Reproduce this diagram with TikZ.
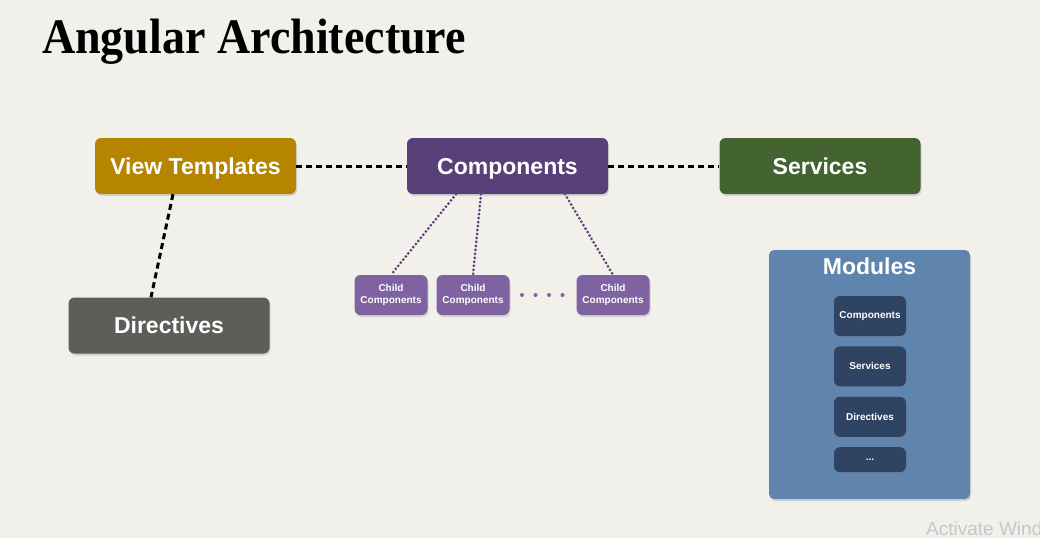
\documentclass[tikz,border=0pt]{standalone}
\usepackage{fontspec}
\newfontfamily\lsans{Liberation Sans}
\newfontfamily\lserif{Liberation Serif}
\usetikzlibrary{positioning,shadows}
\definecolor{paper}{HTML}{F2F0EB}
\definecolor{viewcol}{HTML}{B58500}
\definecolor{compcol}{HTML}{5A4079}
\definecolor{servcol}{HTML}{436431}
\definecolor{dircol}{HTML}{5F5D59}
\definecolor{childcol}{HTML}{7E62A1}
\definecolor{modcol}{HTML}{5F84AE}
\definecolor{innercol}{HTML}{2E4462}
\begin{document}
\begin{tikzpicture}[x=1pt, y=-1pt,
  box/.style = {rounded corners=6pt, text=white,
    font=\lsans\bfseries\fontsize{23}{27}\selectfont,
    text height=17pt, text depth=1pt,
    minimum width=201pt, minimum height=56pt,
    drop shadow={opacity=0.25, shadow xshift=1pt, shadow yshift=-2pt}},
  small/.style = {box, font=\lsans\bfseries\fontsize{10}{12}\selectfont,
    text height=, text depth=, align=center,
    minimum width=73pt, minimum height=40pt, inner sep=2pt},
  link/.style = {line width=3pt, dash pattern=on 6pt off 4pt},
  sublink/.style = {draw=compcol, line width=3pt, line cap=round,
    dash pattern=on 0pt off 4pt}
  ]
  \fill[paper] (0,0) rectangle (1040,538);
  \useasboundingbox (0,0) rectangle (1040,538);
  % title
  \node[anchor=base west, inner sep=0pt] (title) at (42,53)
    {\scalebox{1}[1.08]{\lserif\bfseries\fontsize{46}{50}\selectfont Angular Architecture}};
  % main blocks
  \node[box, fill=viewcol] (view) at (195.5,166) {View Templates};
  \node[box, fill=compcol] (comp) at (507.5,166) {Components};
  \node[box, fill=servcol] (serv) at (820,166) {Services};
  \node[box, fill=dircol] (dir) at (169,325.5) {Directives};
  % child components
  \node[small, fill=childcol] (child1) at (391,295) {Child\\Components};
  \node[small, fill=childcol] (child2) at (473,295) {Child\\Components};
  \node[small, fill=childcol] (child3) at (613,295) {Child\\Components};
  \foreach \x in {522,535.5,549,562.5}
    \fill[childcol] (\x,295) circle (2pt);
  % modules
  \node[box, fill=modcol, minimum height=249pt, rounded corners=5pt] (modules) at (869.5,374.5) {};
  \node[text=white, font=\lsans\bfseries\fontsize{23}{27}\selectfont] (modtitle) at (869.5,266) {Modules};
  \node[small, fill=innercol, minimum width=72pt] (mcomp) at (870,316) {Components};
  \node[small, fill=innercol, minimum width=72pt, below=10pt of mcomp] (mserv) {Services};
  \node[small, fill=innercol, minimum width=72pt, below=10pt of mserv] (mdir) {Directives};
  \node[small, fill=innercol, minimum width=72pt, minimum height=25pt, below=10pt of mdir] (mmore) {...};
  % connectors
  \draw[link] (view.east) -- (comp.west);
  \draw[link] (comp.east) -- (serv.west);
  \draw[link] (view.south -| 173,0) -- (dir.north -| 151,0);
  \draw[sublink] (comp.south -| 456,0) -- (child1.north);
  \draw[sublink] (comp.south -| 481,0) -- (child2.north);
  \draw[sublink] (comp.south -| 565,0) -- (child3.north);
  % watermark
  \node[anchor=base west, inner sep=0pt, text=black!22,
    font=\lsans\fontsize{19}{22}\selectfont] (mark) at (926,535) {Activate Windows};
\end{tikzpicture}
\end{document}
